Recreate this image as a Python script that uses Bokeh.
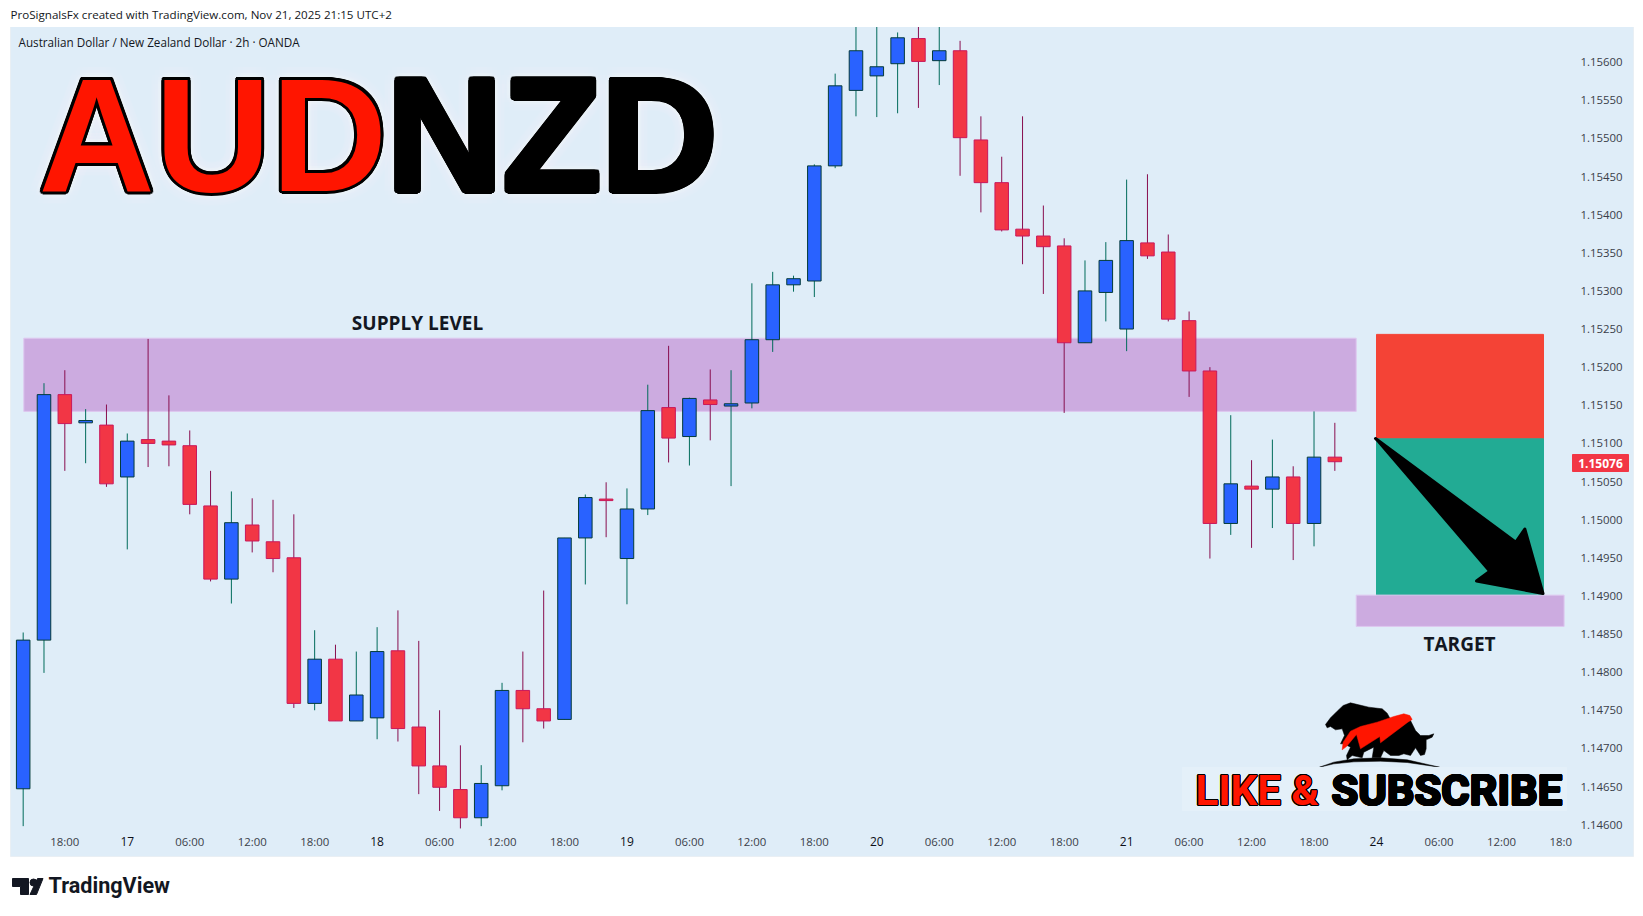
from math import cos, sin, pi

from bokeh.core.properties import value
from bokeh.embed import file_html
from bokeh.models import FixedTicker, LinearAxis, Range1d
from bokeh.plotting import figure
from bokeh.resources import INLINE

# 2h AUD/NZD candles
opens = [1.14647, 1.14842, 1.15164, 1.15127, 1.15124, 1.15056, 1.15105, 1.15103, 1.15097, 1.15018, 1.14922, 1.14993,
         1.14971, 1.14950, 1.14759, 1.14817, 1.14736, 1.14740, 1.14828, 1.14728, 1.14677, 1.14646, 1.14609, 1.14651,
         1.14776, 1.14752, 1.14738, 1.14976, 1.15027, 1.14949, 1.15014, 1.15147, 1.15109, 1.15157, 1.15149, 1.15153,
         1.15236, 1.15308, 1.15313, 1.15464, 1.15563, 1.15582, 1.15598, 1.15631, 1.15602, 1.15615, 1.15498, 1.15442,
         1.15381, 1.15372, 1.15359, 1.15232, 1.15298, 1.15250, 1.15363, 1.15351, 1.15261, 1.15195, 1.14995, 1.15044,
         1.15040, 1.15056, 1.14995, 1.15082]
highs = [1.14852, 1.15179, 1.15196, 1.15145, 1.15151, 1.15113, 1.15237, 1.15163, 1.15117, 1.15064, 1.15037, 1.15028,
         1.15026, 1.15007, 1.14855, 1.14836, 1.14827, 1.14859, 1.14881, 1.14841, 1.14750, 1.14704, 1.14678, 1.14786,
         1.14827, 1.14907, 1.14976, 1.15033, 1.15049, 1.15041, 1.15177, 1.15228, 1.15160, 1.15197, 1.15196, 1.15310,
         1.15325, 1.15320, 1.15466, 1.15585, 1.15655, 1.15655, 1.15639, 1.15661, 1.15655, 1.15628, 1.15529, 1.15476,
         1.15529, 1.15412, 1.15369, 1.15340, 1.15364, 1.15446, 1.15453, 1.15374, 1.15273, 1.15200, 1.15137, 1.15078,
         1.15105, 1.15070, 1.15142, 1.15127]
lows = [1.14598, 1.14799, 1.15064, 1.15074, 1.15043, 1.14961, 1.15069, 1.15070, 1.15007, 1.14919, 1.14890, 1.14957,
        1.14931, 1.14753, 1.14750, 1.14736, 1.14736, 1.14712, 1.14709, 1.14640, 1.14618, 1.14595, 1.14598, 1.14645,
        1.14708, 1.14726, 1.14738, 1.14915, 1.14977, 1.14889, 1.15006, 1.15075, 1.15071, 1.15104, 1.15044, 1.15146,
        1.15220, 1.15299, 1.15292, 1.15461, 1.15529, 1.15528, 1.15533, 1.15540, 1.15570, 1.15451, 1.15403, 1.15378,
        1.15335, 1.15296, 1.15140, 1.15232, 1.15260, 1.15221, 1.15342, 1.15260, 1.15161, 1.14949, 1.14980, 1.14963,
        1.14989, 1.14947, 1.14965, 1.15064]
closes = [1.14842, 1.15164, 1.15126, 1.15130, 1.15047, 1.15103, 1.15100, 1.15098, 1.15020, 1.14922, 1.14996, 1.14972,
          1.14949, 1.14759, 1.14817, 1.14736, 1.14770, 1.14827, 1.14726, 1.14677, 1.14649, 1.14609, 1.14654, 1.14776,
          1.14752, 1.14736, 1.14976, 1.15029, 1.15025, 1.15014, 1.15143, 1.15107, 1.15159, 1.15151, 1.15152, 1.15236,
          1.15308, 1.15316, 1.15464, 1.15569, 1.15615, 1.15594, 1.15632, 1.15601, 1.15615, 1.15501, 1.15442, 1.15380,
          1.15372, 1.15358, 1.15232, 1.15300, 1.15340, 1.15366, 1.15346, 1.15263, 1.15195, 1.14995, 1.15047, 1.15040,
          1.15056, 1.14995, 1.15082, 1.15076]

price_ticks = [1.146, 1.1465, 1.147, 1.1475, 1.148, 1.1485, 1.149, 1.1495, 1.15, 1.1505, 1.151,
               1.1515, 1.152, 1.1525, 1.153, 1.1535, 1.154, 1.1545, 1.155, 1.1555, 1.156]
time_ticks = [2, 8, 11, 14, 20, 23, 26, 32, 35, 38, 44, 47, 50, 56, 59, 62, 68, 71, 73.85]
time_labels = ["18:00", "06:00", "12:00", "18:00", "06:00", "12:00", "18:00", "06:00", "12:00", "18:00",
               "06:00", "12:00", "18:00", "06:00", "12:00", "18:00", "06:00", "12:00", "18:0"]
day_ticks = [5, 17, 29, 41, 53, 65]
day_labels = ["17", "18", "19", "20", "21", "24"]

supply_zone = [1.15238, 1.15142]
target_zone = [1.14901, 1.14860]
risk_box = [1.15243, 1.15106]
reward_box = [1.15106, 1.14901]
last_price = "1.15076"

BG = "#DFEDF8"
ZONE = "#CCABE0"

# figure covers the page, X and Y turn screenshot pixels into data for the drawings
W, H = 1635, 908
x0, x1 = -1.0891, 77.441
y0, y1 = 1.144900, 1.156809


def X(px):
    return x0 + px / W * (x1 - x0)


def Y(py):
    return y1 - py / H * (y1 - y0)


def text(s, px, py, size, color="#131722", font="Open Sans", style="normal", align="left"):
    return p.text([X(px)], [Y(py)], text=[s], text_font=value(font), text_font_size=value(size),
                  text_font_style=style, text_color=color, text_align=align, text_baseline="middle")


def ring(s, px, py, size, color, radius, font, alpha=1.0):
    # same word drawn round a circle, gives the thick outline and the glow
    n = 16
    dx = [radius * cos(2 * pi * k / n) for k in range(n)]
    dy = [radius * sin(2 * pi * k / n) for k in range(n)]
    p.text([X(px)] * n, [Y(py)] * n, text=[s] * n, x_offset=dx, y_offset=dy, text_font=value(font),
           text_font_size=value(size), text_font_style="bold", text_color=color, text_alpha=alpha,
           text_baseline="middle")


p = figure(width=W, height=H, output_backend="svg", toolbar_location=None,
           x_range=Range1d(x0, x1), y_range=Range1d(y0, y1),
           x_axis_location=None, y_axis_location=None, min_border=0, outline_line_color=None,
           background_fill_color="white", border_fill_color="white")
p.grid.visible = False

p.quad(left=[X(10)], right=[X(1633)], top=[Y(26)], bottom=[Y(856)], color=BG, line_color="#E9EFF4")

idx = list(range(len(opens)))
p.quad(left=[X(23.3)], right=[X(1355.7)], top=[supply_zone[0]], bottom=[supply_zone[1]],
       fill_color=ZONE, line_color="#DEC8F0")

up = [i for i in idx if closes[i] >= opens[i]]
down = [i for i in idx if closes[i] < opens[i]]
for ids, body, border, wick in [(up, "#2962FF", "#043B3A", "#006B5B"), (down, "#F23645", "#C9185B", "#880E4F")]:
    p.segment([i for i in ids], [highs[i] for i in ids], [i for i in ids], [lows[i] for i in ids],
              line_color=wick, line_width=1)
    p.vbar(x=ids, width=0.65, top=[max(opens[i], closes[i]) for i in ids],
           bottom=[min(opens[i], closes[i]) for i in ids], fill_color=body, line_color=border, line_width=1)

# white strip hides the wicks that leave the pane
p.quad(left=[X(0)], right=[X(W)], top=[Y(0)], bottom=[Y(26)], color="white")

p.quad(left=[X(1376)], right=[X(1543)], top=[risk_box[0]], bottom=[risk_box[1]], color="#F44336")
p.quad(left=[X(1376)], right=[X(1543)], top=[reward_box[0]], bottom=[reward_box[1]], color="#22AB94")
p.quad(left=[X(1355.7)], right=[X(1563.6)], top=[target_zone[0]], bottom=[target_zone[1]],
       fill_color=ZONE, line_color="#DEC8F0")

arrow = [(1375, 438), (1515.3, 541.7), (1524.3, 528.5), (1542.5, 593), (1476, 580.5), (1489.3, 570.7), (1378, 441)]
p.patch([X(a) for a, b in arrow], [Y(b) for a, b in arrow], color="black", line_width=3, line_join="round")

# price tag
p.quad(left=[X(1572)], right=[X(1628)], top=[Y(454)], bottom=[Y(471)], color="#F23645")
text(last_price, 1600, 462.6, "12px", color="white", style="bold", align="center")

# axes sit inside the pane, like on the site
yaxis = LinearAxis(fixed_location=X(1575), ticker=FixedTicker(ticks=price_ticks), major_tick_line_color=None,
                   major_tick_in=0, major_tick_out=0,
                   minor_tick_line_color=None, axis_line_color=None, major_label_standoff=5,
                   major_label_text_font="Open Sans", major_label_text_font_size="11.4px",
                   major_label_text_color="#3A3E49",
                   major_label_overrides={t: f"{t:.5f}" for t in price_ticks})
p.add_layout(yaxis, "right")

xaxis = LinearAxis(fixed_location=Y(833), ticker=FixedTicker(ticks=time_ticks), major_tick_line_color=None,
                   major_tick_in=0, major_tick_out=0,
                   minor_tick_line_color=None, axis_line_color=None, major_label_standoff=0,
                   major_label_text_font="Open Sans", major_label_text_font_size="11.4px",
                   major_label_text_color="#3A3E49",
                   major_label_overrides=dict(zip(time_ticks, time_labels)))
p.add_layout(xaxis, "below")

dayaxis = LinearAxis(fixed_location=Y(833), ticker=FixedTicker(ticks=day_ticks), major_tick_line_color=None,
                     major_tick_in=0, major_tick_out=0,
                     minor_tick_line_color=None, axis_line_color=None, major_label_standoff=3,
                     major_label_text_font="Open Sans", major_label_text_font_size="12px",
                     major_label_text_color="#0C0F18",
                     major_label_overrides=dict(zip(day_ticks, day_labels)))
p.add_layout(dayaxis, "below")

text("ProSignalsFx created with TradingView.com, Nov 21, 2025 21:15 UTC+2", 10, 14, "11.6px")
text("Australian Dollar / New Zealand Dollar \u00b7 2h \u00b7 OANDA", 18, 41, "11.7px")
text("SUPPLY LEVEL", 417, 322, "19px", style="bold", align="center")
text("TARGET", 1459, 643, "19px", style="bold", align="center")

# headline, the outline and the soft glow are copies of the word
HEAD = "Liberation Sans"
words = [("AUD", 38, "#FF1500"), ("NZD", 386, "black")]
for word, px, color in words:
    ring(word, px, 134, "161px", "white", 13, HEAD, alpha=0.05)
    ring(word, px, 134, "161px", "white", 7, HEAD, alpha=0.07)
for word, px, color in words:
    ring(word, px, 134, "161px", "black", 3, HEAD)
    text(word, px, 134, "161px", color=color, font=HEAD, style="bold")

# logo, coordinates from a 3x crop at 1120,640
bull = [(615, 252), (630, 232), (650, 212), (668, 195), (690, 187), (715, 193), (745, 200), (785, 205), (800, 218),
        (812, 240), (850, 225), (870, 240), (885, 270), (900, 285), (925, 285), (940, 280), (935, 290), (917, 298),
        (917, 325), (912, 342), (900, 345), (885, 322), (870, 345), (850, 340), (835, 345), (810, 345), (790, 330),
        (780, 352), (755, 352), (760, 320), (730, 335), (725, 352), (695, 345), (680, 358), (678, 345), (690, 320),
        (670, 310), (660, 310), (672, 285), (665, 265), (645, 268), (630, 258), (620, 262)]
swoosh = [(665, 328), (668, 305), (690, 272), (720, 258), (770, 245), (820, 228), (850, 220), (868, 225), (875, 237),
          (862, 245), (780, 307), (778, 288), (720, 325), (708, 282), (678, 318)]
ground = [(597, 380), (640, 365), (700, 355), (780, 352), (860, 358), (957, 380), (860, 366), (780, 362), (700, 364),
          (640, 370)]
for shape, color in [(bull, "black"), (swoosh, "#FF1500"), (ground, "black")]:
    p.patch([X(1120 + a / 3) for a, b in shape], [Y(640 + b / 3) for a, b in shape], color=color, line_width=0.5)

p.quad(left=[X(1182)], right=[X(1566)], top=[Y(767)], bottom=[Y(810)], color="#E4F0F9")
ring("LIKE &", 1195, 790, "42px", "black", 1, "Roboto")
text("LIKE &", 1195, 790, "42px", color="#FF1500", font="Roboto", style="bold")
ring("SUBSCRIBE", 1331, 790, "43.4px", "black", 1, "Roboto")
text("SUBSCRIBE", 1331, 790, "43.4px", color="black", font="Roboto", style="bold")

# TradingView mark at the bottom
tv_t = [(12, 878), (28, 878), (28, 894), (20, 894), (20, 886), (12, 886)]
tv_v = [(37, 878), (42.5, 878), (36, 894), (29.5, 894)]
p.patch([X(a) for a, b in tv_t], [Y(b) for a, b in tv_t], color="#131722")
p.patch([X(a) for a, b in tv_v], [Y(b) for a, b in tv_v], color="#131722")
p.scatter([X(33)], [Y(882)], size=7, color="#131722")
text("TradingView", 48, 885, "21.6px", font="Roboto", style="bold")

open("out.html", "w").write(file_html(p, INLINE))
